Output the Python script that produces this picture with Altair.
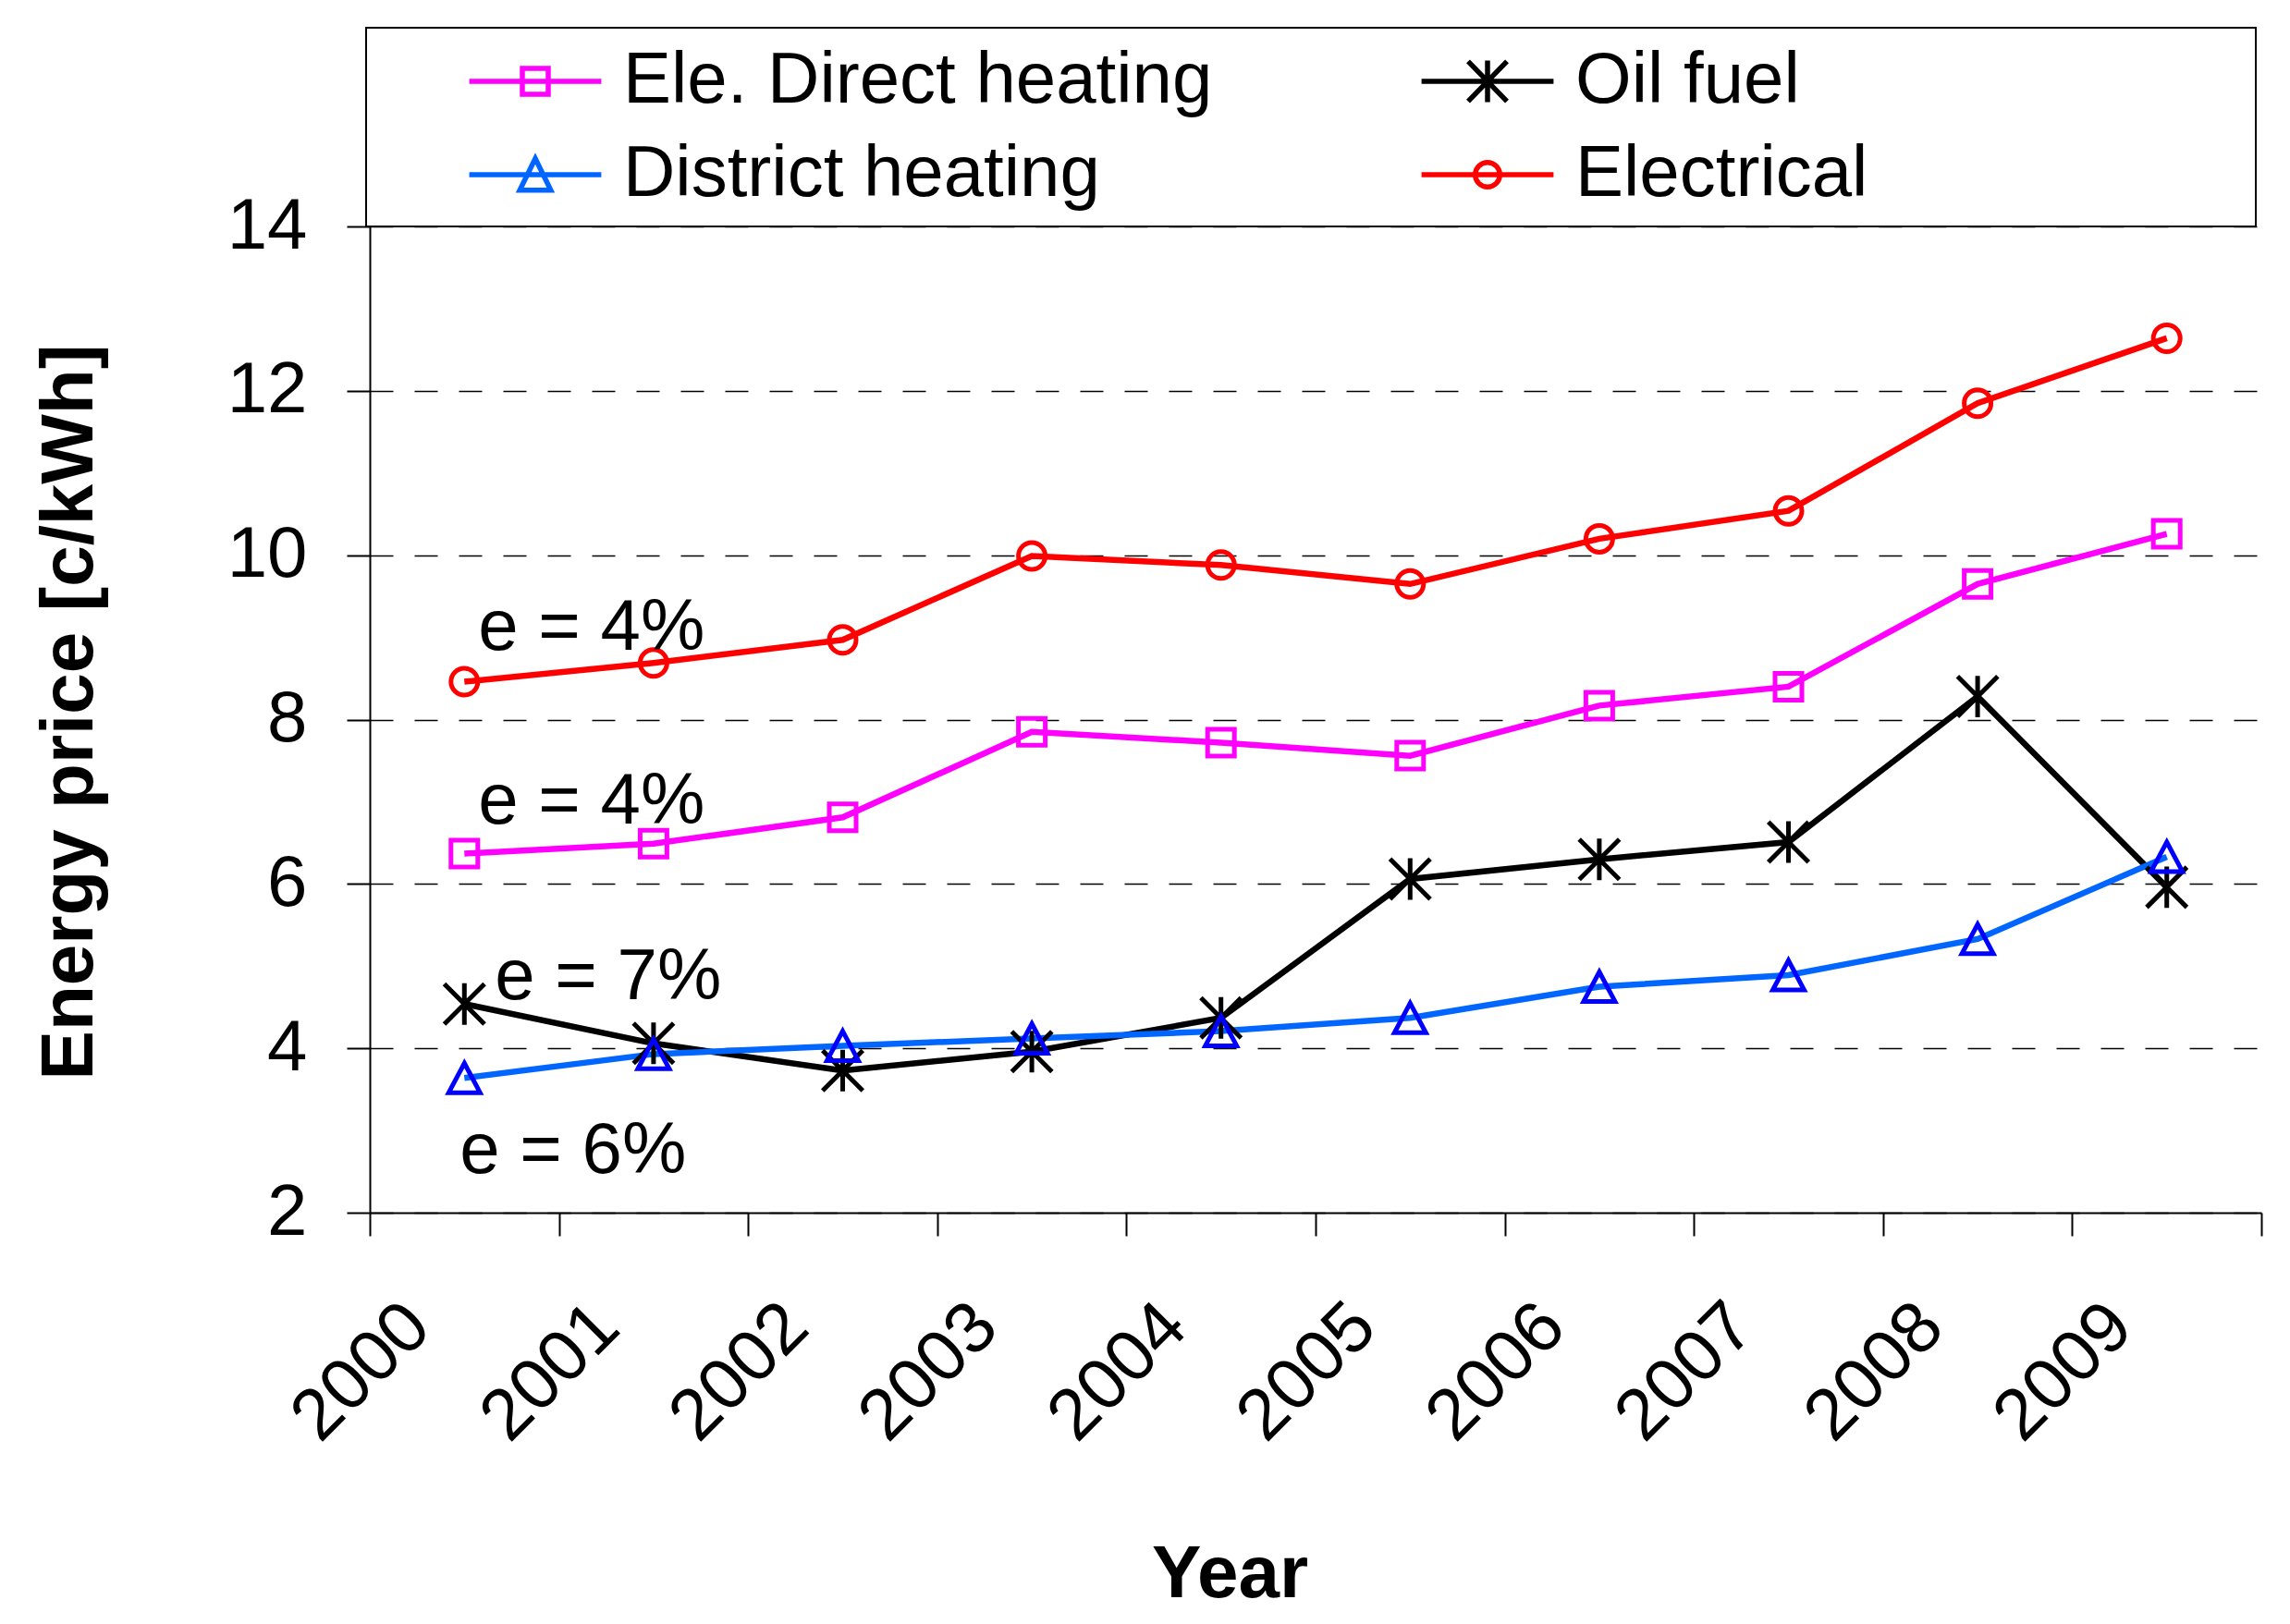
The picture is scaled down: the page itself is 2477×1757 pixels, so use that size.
import altair as alt
import pandas as pd

# ---------------- data ----------------
years = ["2000", "2001", "2002", "2003", "2004", "2005", "2006", "2007", "2008", "2009"]
series_names = ["Ele. Direct heating", "Oil fuel", "District heating", "Electrical"]
ele_direct = [6.37, 6.49, 6.81, 7.85, 7.72, 7.56, 8.17, 8.40, 9.65, 10.26]
oil_fuel = [4.54, 4.06, 3.73, 3.96, 4.37, 6.06, 6.30, 6.51, 8.28, 5.96]
district = [3.64, 3.93, 4.03, 4.12, 4.21, 4.37, 4.75, 4.89, 5.33, 6.33]
electrical = [8.46, 8.69, 8.97, 9.99, 9.88, 9.65, 10.20, 10.54, 11.85, 12.64]
y_ticks = [2, 4, 6, 8, 10, 12, 14]

ann_labels = ["e = 4%", "e = 4%", "e = 7%", "e = 6%"]
ann_values = [8.85, 6.73, 4.60, 2.48]
ann_year = "2000"

# legend reading order (filled column by column: two rows per column)
legend_order = ["Ele. Direct heating", "District heating", "Oil fuel", "Electrical"]

# ---------------- styles ----------------
line_colors = ["#FF00FF", "#000000", "#0066FF", "#FF0000"]
marker_colors = ["#FF00FF", "#000000", "#0000FF", "#FF0000"]
marker_paths = [
    "M-1,-1L1,-1L1,1L-1,1Z",
    "M-1.5,-1.5L1.5,1.5M-1.5,1.5L1.5,-1.5M0,-1.55L0,1.55",
    "M0,-1.1L1.17,1.1L-1.17,1.1Z",
    "M1,0A1,1 0 1,1 -1,0A1,1 0 1,1 1,0Z",
]
legend_colors = ["#FF00FF", "#0066FF", "#000000", "#FF0000"]
legend_paths = [
    "M-5.1,0L5.1,0M-1,-1L1,-1L1,1L-1,1Z",
    "M-5.1,0L5.1,0M0,-1.25L1.2,1.2L-1.2,1.2Z",
    "M-5.1,0L5.1,0M-1.5,-1.55L1.5,1.55M-1.5,1.55L1.5,-1.55M0,-1.6L0,1.6",
    "M-5.1,0L5.1,0M0.95,0A0.95,0.95 0 1,1 -0.95,0A0.95,0.95 0 1,1 0.95,0Z",
]
ann_dx = [15, 15, 33, -5]
FONT = "Liberation Sans"

rows = []
for name, vals in zip(series_names, [ele_direct, oil_fuel, district, electrical]):
    for yr, v in zip(years, vals):
        rows.append({"series": name, "year": yr, "value": v})
df = pd.DataFrame(rows)

x_enc = alt.X(
    "year:O",
    sort=years,
    bandPosition=0.5,
    scale=alt.Scale(type="band", domain=years, paddingInner=0, paddingOuter=0),
    axis=alt.Axis(
        title="Year",
        tickBand="extent",
        ticks=True,
        tickSize=25,
        labelAngle=315,
        labelAlign="right",
        labelBaseline="middle",
        labelPadding=86,
        labelOffset=-50,
        labelFontSize=78,
        grid=False,
        titleFontSize=80,
        titleFontWeight="bold",
        titleX=930,
        titleY=415,
        titleAlign="center",
        titleBaseline="alphabetic",
    ),
)
y_enc = alt.Y(
    "value:Q",
    scale=alt.Scale(domain=[2, 14], nice=False, zero=False),
    axis=alt.Axis(
        title="Energy price [c/kWh]",
        values=y_ticks,
        format="d",
        grid=True,
        gridDash=[25, 23],
        gridColor="black",
        gridWidth=1.6,
        tickSize=25,
        labelPadding=43,
        labelFontSize=78,
        titleFontSize=80,
        titleFontWeight="bold",
        titleAngle=270,
        titleX=-301,
        titleY=525,
        titleAlign="center",
        titleBaseline="alphabetic",
    ),
)

lines = alt.Chart(df).mark_line(strokeWidth=6.5).encode(
    x=x_enc,
    y=y_enc,
    color=alt.Color("series:N", scale=alt.Scale(domain=series_names, range=line_colors), legend=None),
    detail="series:N",
)

points = alt.Chart(df).mark_point(filled=False, size=841, strokeWidth=5, opacity=1).encode(
    x=x_enc,
    y=y_enc,
    color=alt.Color("series:N", scale=alt.Scale(domain=series_names, range=marker_colors), legend=None),
    shape=alt.Shape("series:N", scale=alt.Scale(domain=series_names, range=marker_paths), legend=None),
)

ann_layers = []
for lab, val, dx in zip(ann_labels, ann_values, ann_dx):
    adf = pd.DataFrame({"year": [ann_year], "value": [val], "label": [lab]})
    ann_layers.append(
        alt.Chart(adf).mark_text(
            align="left", baseline="alphabetic", dx=dx, fontSize=78, font=FONT, color="black"
        ).encode(x=x_enc, y=y_enc, text="label:N")
    )

box = alt.Chart(pd.DataFrame({"k": [0]})).mark_rect(
    fill="transparent", stroke="black", strokeWidth=2
).encode(x=alt.value(-4), x2=alt.value(2040), y=alt.value(-215), y2=alt.value(0))

leg = alt.Legend(
    orient="none",
    legendX=85,
    legendY=-196,
    columns=2,
    columnPadding=203,
    rowPadding=23,
    padding=0,
    title=None,
    symbolSize=784,
    symbolStrokeWidth=5.5,
    symbolOpacity=1,
    symbolFillColor="transparent",
    symbolOffset=55,
    labelOffset=56,
    labelFontSize=78,
    labelFont=FONT,
    labelColor="black",
    labelLimit=1500,
)

legend_layer = alt.Chart(df).mark_point(filled=False, size=784, strokeWidth=5.5, opacity=0).encode(
    x=x_enc,
    y=y_enc,
    color=alt.Color("series:N", scale=alt.Scale(domain=legend_order, range=legend_colors), legend=leg),
    shape=alt.Shape("series:N", scale=alt.Scale(domain=legend_order, range=legend_paths), legend=leg),
)

chart = alt.layer(lines, points, *ann_layers, box, legend_layer).resolve_scale(
    color="independent", shape="independent"
).resolve_legend(color="independent", shape="independent").properties(
    width=2046,
    height=1067,
    autosize=alt.AutoSizeParams(type="none"),
    padding={"left": 392, "top": 237, "right": 20, "bottom": 435},
    background="white",
).configure_view(stroke=None).configure_axis(
    domainColor="black",
    domainWidth=2,
    tickColor="black",
    tickWidth=2,
    labelFont=FONT,
    labelColor="black",
    titleFont=FONT,
    titleColor="black",
)

chart.save("out.html", embed_options={"renderer": "svg", "actions": False})
